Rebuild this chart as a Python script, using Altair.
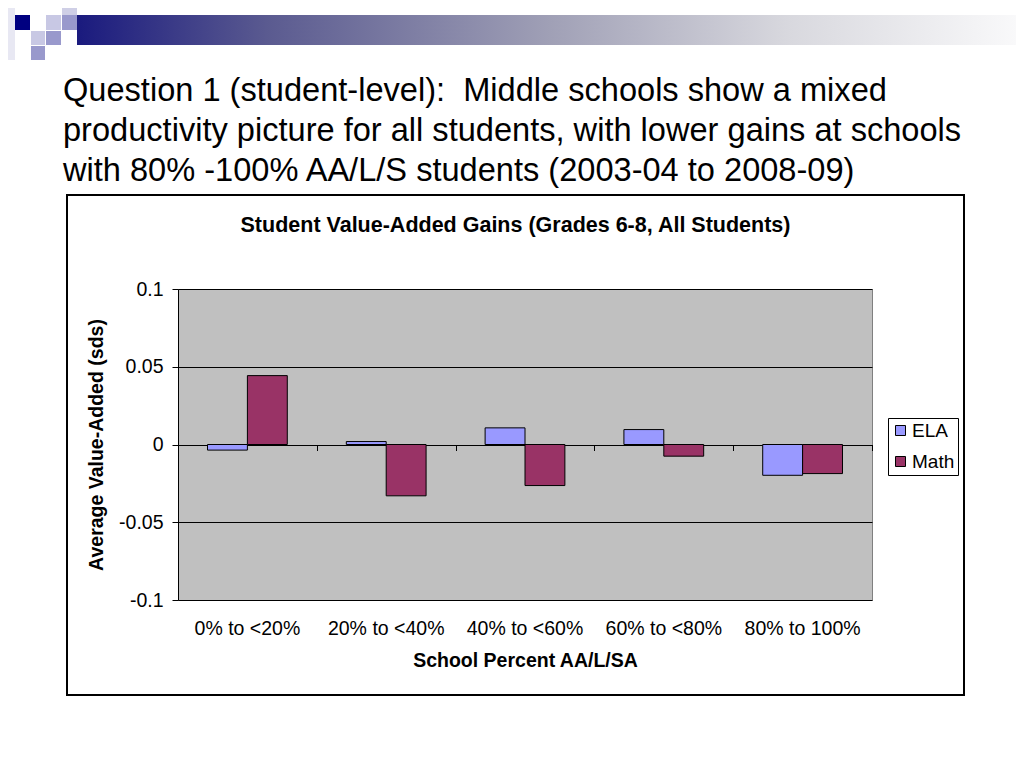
import altair as alt
import pandas as pd

# ---- data ----
categories = ["0% to <20%", "20% to <40%", "40% to <60%", "60% to <80%", "80% to 100%"]
series_names = ["ELA", "Math"]
ela_values = [-0.0036, 0.0019, 0.0107, 0.0096, -0.0198]
math_values = [0.0443, -0.0330, -0.0264, -0.0075, -0.0187]
y_ticks = [-0.1, -0.05, 0, 0.05, 0.1]
series_colors = ["#9999FF", "#993366"]

slide_title_lines = [
    "Question 1 (student-level):\u00a0 Middle schools show a mixed",
    "productivity picture for all students, with lower gains at schools",
    "with 80% -100% AA/L/S students (2003-04 to 2008-09)",
]
chart_title = "Student Value-Added Gains (Grades 6-8, All Students)"
x_title = "School Percent AA/L/SA"
y_title = "Average Value-Added (sds)"

rows = []
for c, v in zip(categories, ela_values):
    rows.append({"cat": c, "series": "ELA", "value": v})
for c, v in zip(categories, math_values):
    rows.append({"cat": c, "series": "Math", "value": v})
df = pd.DataFrame(rows)

FONT = "Liberation Sans"
W, H = 694, 311
FS = 19.5

x_scale = alt.Scale(paddingInner=0, paddingOuter=0)

bars = alt.Chart(df).mark_bar(stroke="black", strokeWidth=1, opacity=1).encode(
    x=alt.X("cat:N", sort=categories, scale=x_scale, title=x_title,
            axis=alt.Axis(orient="bottom", domain=False, ticks=False, labelAngle=0,
                          labelFont=FONT, labelFontSize=FS, labelColor="black",
                          labelPadding=19, titleFont=FONT, titleFontSize=FS,
                          titleFontWeight="bold", titleColor="black", titlePadding=14)),
    xOffset=alt.XOffset("series:N", sort=series_names,
                        scale=alt.Scale(paddingInner=0, paddingOuter=0.74)),
    y=alt.Y("value:Q", scale=alt.Scale(domain=[-0.1, 0.1], nice=False, zero=False),
            title=y_title,
            axis=alt.Axis(values=y_ticks, labelExpr="'' + datum.value",
                          grid=True, gridColor="black", gridWidth=1, gridOpacity=1,
                          domainColor="black", tickColor="black", tickSize=6,
                          labelFont=FONT, labelFontSize=FS, labelColor="black",
                          labelPadding=9, titleFont=FONT, titleFontSize=FS,
                          titleFontWeight="bold", titleColor="black", titlePadding=12)),
    color=alt.Color("series:N", sort=series_names,
                    scale=alt.Scale(domain=series_names, range=series_colors),
                    legend=alt.Legend(title=None, orient="none", legendX=710, legendY=129,
                                      direction="vertical", strokeColor="black",
                                      fillColor="white", padding=3, cornerRadius=0,
                                      labelFont=FONT, labelFontSize=19, labelColor="black",
                                      symbolType="square", symbolSize=100,
                                      symbolStrokeColor="black", symbolStrokeWidth=1,
                                      symbolOpacity=1, rowPadding=11, labelOffset=2)),
)

# category boundary ticks hanging from the zero line
tick_layer = alt.Chart(df).mark_point(opacity=0).encode(
    x=alt.X("cat:N", sort=categories, scale=x_scale, title=None,
            axis=alt.Axis(orient="top", offset=-(H / 2 + 6), domain=False, labels=False,
                          ticks=True, tickSize=6, tickColor="black", tickBand="extent",
                          grid=False)),
)

one = pd.DataFrame({"t": [0]})

# chart frame (transparent inside)
frame = alt.Chart(one).mark_rect(fill=None, stroke="black", strokeWidth=2).encode(
    x=alt.value(-111), x2=alt.value(786), y=alt.value(-94), y2=alt.value(406))

title_text = alt.Chart(pd.DataFrame({"t": [chart_title]})).mark_text(
    font=FONT, fontSize=21.5, fontWeight="bold", color="black", align="center",
    baseline="middle").encode(x=alt.value(337.5), y=alt.value(-63), text="t:N")

slide_text = alt.Chart(pd.DataFrame({"t": ["\n".join(slide_title_lines)]})).mark_text(
    font=FONT, fontSize=32.6, color="black", align="left", baseline="alphabetic",
    lineBreak="\n", lineHeight=40).encode(x=alt.value(-115), y=alt.value(-188), text="t:N")

# header decoration
grad = alt.Gradient(gradient="linear", x1=0, x2=1, y1=0, y2=0, stops=[
    alt.GradientStop(color="#1a1a7e", offset=0),
    alt.GradientStop(color="#5a5a90", offset=0.2),
    alt.GradientStop(color="#a0a0b6", offset=0.5),
    alt.GradientStop(color="#d8d8de", offset=0.75),
    alt.GradientStop(color="#fafafb", offset=1),
])
deco = [alt.Chart(one).mark_rect(fill=grad).encode(
    x=alt.value(-101), x2=alt.value(846), y=alt.value(-274), y2=alt.value(-244))]


def sq(x0, x1, y0, y1, color):
    return alt.Chart(one).mark_rect(fill=color).encode(
        x=alt.value(x0), x2=alt.value(x1), y=alt.value(y0), y2=alt.value(y1))


deco += [
    sq(-178, -163, -289, -229, "#e8e8f3"),
    sq(-163, -148, -274, -259, "#000080"),
    sq(-116, -101, -289, -274, "#cfcfe6"),
    sq(-132, -117, -274, -259, "#c8c8e4"),
    sq(-116, -101, -274, -259, "#9999cc"),
    sq(-147, -133, -258, -244, "#c8c8e4"),
    sq(-132, -117, -258, -244, "#9999cc"),
    sq(-147, -133, -243, -229, "#9999cc"),
]

chart = alt.layer(bars, tick_layer, frame, title_text, slide_text, *deco).resolve_axis(
    x="independent"
).properties(
    width=W, height=H, autosize="none",
    padding={"left": 170, "top": 281, "right": 144, "bottom": 158},
    background="white",
).configure_view(fill="#C0C0C0", stroke="#808080", strokeWidth=1)

chart.save("out.html", embed_options={"renderer": "svg", "actions": False})
